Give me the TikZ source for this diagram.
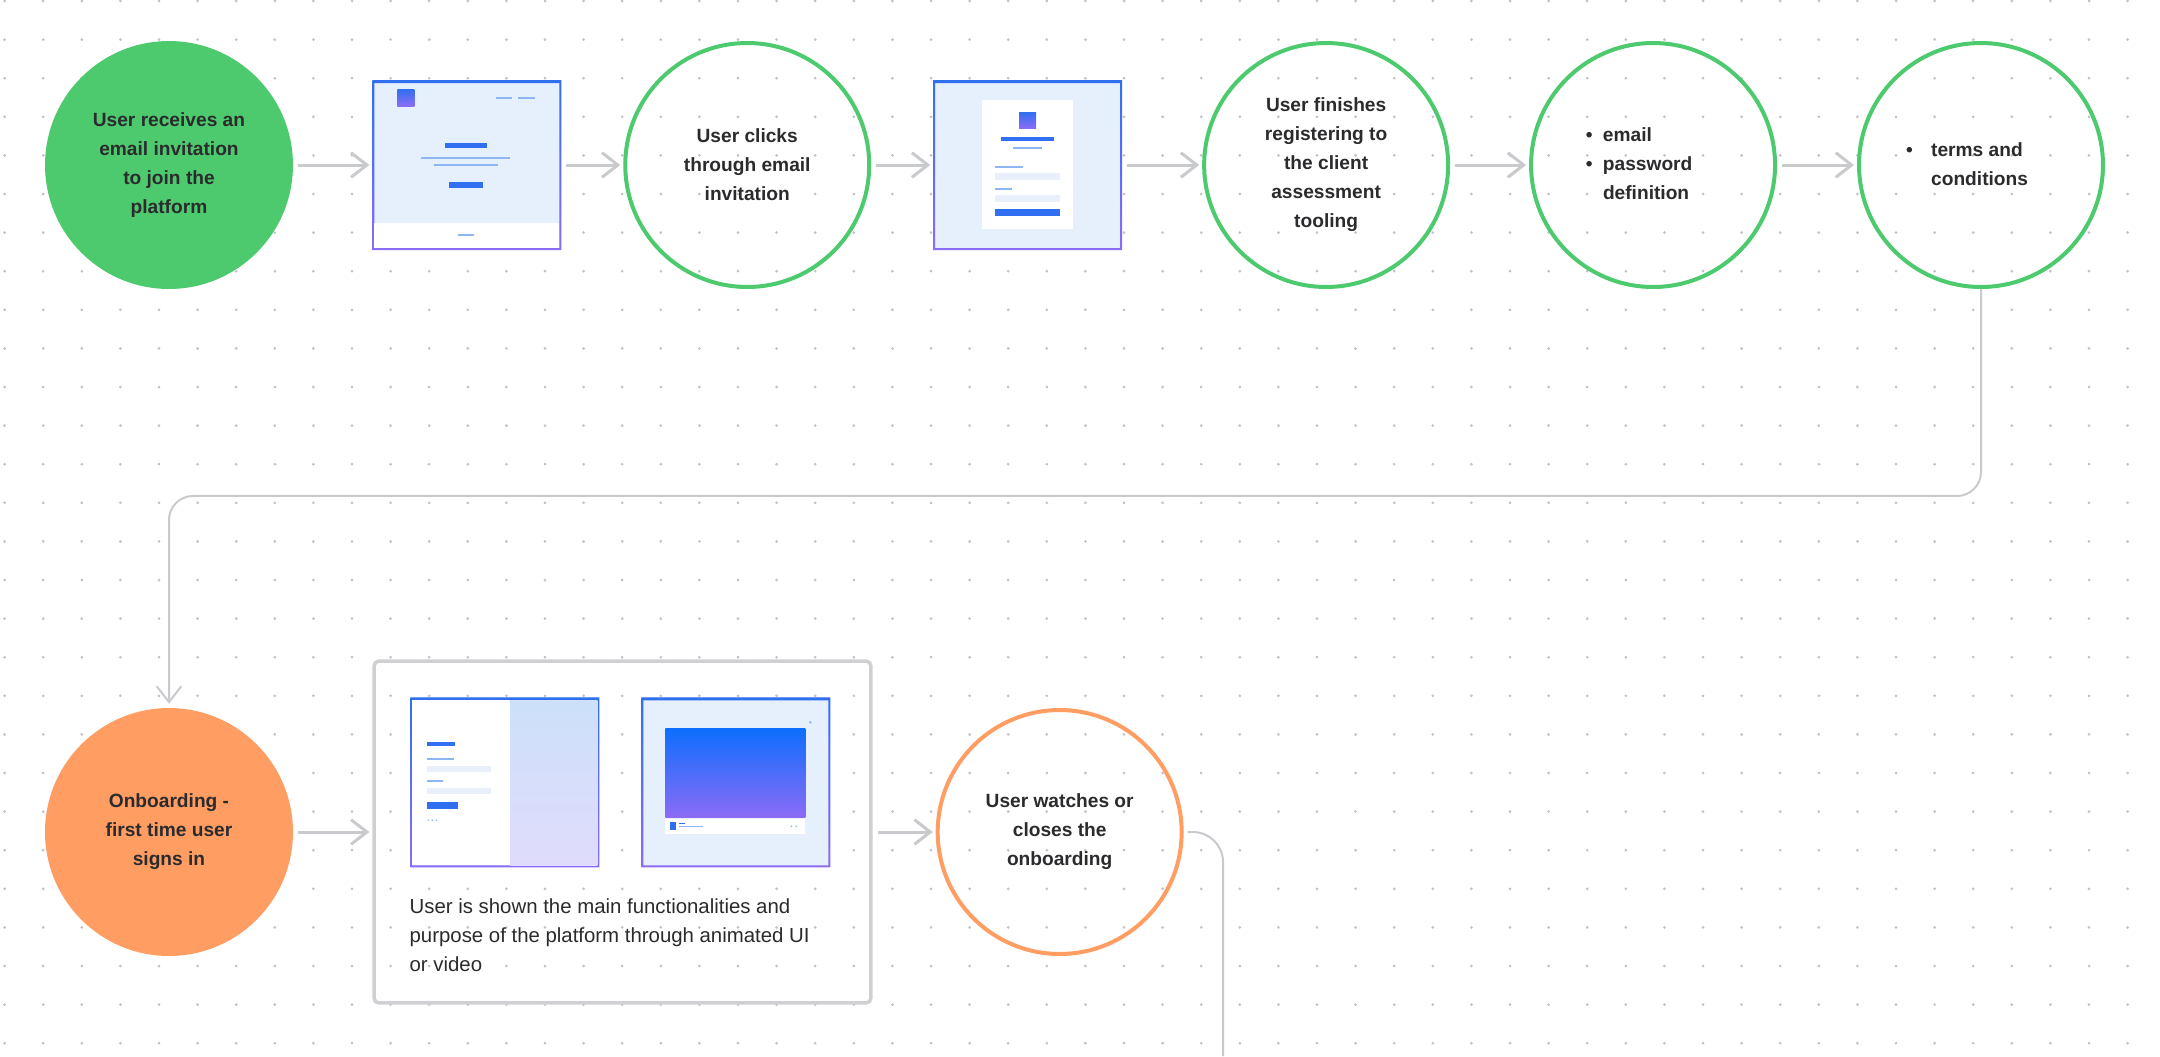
\documentclass[tikz,border=0pt]{standalone}
\usepackage{fontspec}
\setmainfont{Liberation Sans}
\usepackage{tikz}
\usetikzlibrary{arrows.meta,positioning,calc}
\definecolor{ink}{HTML}{2B2B2E}
\definecolor{leaf}{HTML}{4DCA6E}
\definecolor{peach}{HTML}{FF9D63}
\definecolor{wire}{HTML}{C9CACE}
\definecolor{dotgrey}{HTML}{C2C2C6}
\definecolor{panelgrey}{HTML}{D0D0D4}
\definecolor{uiblue}{HTML}{2F6FF0}
\definecolor{uiviolet}{HTML}{8B6CF6}
\definecolor{uivid}{HTML}{0D6EFD}
\definecolor{uipale}{HTML}{E6F0FD}
\definecolor{uiline}{HTML}{8FB5F2}
\definecolor{uifield}{HTML}{E9F0FA}
\definecolor{uisky}{HTML}{CCE0FA}
\definecolor{uililac}{HTML}{E0DCFB}

\begin{document}
\begin{tikzpicture}[x=0.02cm,y=-0.02cm,>={Straight Barb[length=9pt,width=14pt]}]
  \tikzstyle{bubble}=[circle,inner sep=0,align=center,text=ink,font=\fontsize{10.9}{16.5}\selectfont\bfseries]
  \tikzstyle{greenfull}=[bubble,minimum size=4.96cm,fill=leaf]
  \tikzstyle{greenring}=[bubble,minimum size=4.88cm,draw=leaf,line width=0.08cm]
  \tikzstyle{orangefull}=[bubble,minimum size=4.96cm,fill=peach]
  \tikzstyle{orangering}=[bubble,minimum size=4.88cm,draw=peach,line width=0.08cm]
  \tikzstyle{screen}=[rectangle,minimum width=3.78cm,minimum height=3.4cm,inner sep=0,outer sep=0,fill=uipale]
  \tikzstyle{panel}=[rectangle,draw=panelgrey,line width=0.07cm,rounded corners=0.1cm,minimum width=9.94cm,minimum height=6.84cm,inner sep=0]
  \tikzstyle{flowarrow}=[->,draw=wire,line width=0.06cm,shorten <=0.1cm,shorten >=0.06cm]
  \tikzstyle{routeline}=[draw=wire,line width=0.04cm,rounded corners=0.48cm]
  \tikzstyle{uistroke}=[draw=uiline,line width=0.04cm]

  % canvas with dot grid
  \fill[white] (0,0) rectangle (2160,1056);
  \useasboundingbox (0,0) rectangle (2160,1056);
  \foreach \i in {0,...,55}
    \foreach \j in {0,...,27}
      \fill[dotgrey] ({4.6+38.6*\i},{1+38.6*\j}) circle (0.85pt);

  % first row: invitation and registration
  \node[greenfull] (invite) at (169,165) {User receives an\\email invitation\\to join the\\platform};
  \node[screen,right=1.58cm of invite] (mail) {};
  \node[greenring,right=1.24cm of mail] (click) {User clicks\\through email\\invitation};
  \node[screen,right=1.24cm of click] (signup) {};
  \node[greenring,right=1.6cm of signup] (finish) {User finishes\\registering to\\the client\\assessment\\tooling};
  \node[greenring,right=1.58cm of finish] (creds) {\begin{tabular}{@{}l@{\hspace{6pt}}l@{}}\textbullet & email\\ \textbullet & password\\ & definition\end{tabular}\kern0.56cm};
  \node[greenring,right=1.6cm of creds] (terms) {\begin{tabular}{@{}l@{\hspace{10.5pt}}l@{}}\textbullet & terms and\\ & conditions\end{tabular}\kern0.56cm};

  % email mock-up
  \begin{scope}[shift={(mail.north west)}]
    \shade[top color=uiblue,bottom color=uiviolet,even odd rule] (0,0) rectangle (189,170) (2,3) rectangle (187,168);
    \fill[white] (2,143) rectangle (187,168);
    \shade[top color=uiblue,bottom color=uiviolet] (25,9) rectangle (42,26);
    \draw[uistroke] (124,18) -- (140,18) (146,18) -- (163,18);
    \fill[uiblue] (73,63) rectangle (115,68);
    \draw[uistroke] (49,78) -- (138,78) (62,85) -- (126,85);
    \fill[uiblue] (77,102) rectangle (111,108);
    \draw[uistroke] (86,155) -- (102,155);
  \end{scope}

  % sign-up mock-up
  \begin{scope}[shift={(signup.north west)}]
    \shade[top color=uiblue,bottom color=uiviolet,even odd rule] (0,0) rectangle (189,170) (2,3) rectangle (187,168);
    \fill[white] (49,20) rectangle (140,149);
    \shade[top color=uiblue,bottom color=uiviolet] (86,32) rectangle (103,48);
    \fill[uiblue] (68,57) rectangle (121,61);
    \draw[uistroke] (80,68) -- (109,68) (62,87) -- (90,87) (62,109) -- (79,109);
    \fill[uifield] (62,93) rectangle (127,100);
    \fill[uifield] (62,115) rectangle (127,122);
    \fill[uiblue] (62,129) rectangle (127,136);
  \end{scope}

  % second row: onboarding
  \node[orangefull] (onb) at (169,832) {Onboarding -\\first time user\\signs in};
  \node[panel,right=1.58cm of onb] (tour) {};
  \node[orangering,right=1.26cm of tour] (watch) {User watches or\\closes the\\onboarding};

  \begin{scope}[shift={(tour.north west)}]
    \node[screen,anchor=north west] (slides) at (38,38) {};
    \node[screen,anchor=north west] (video) at (269,38) {};
    \node[anchor=north west,align=left,inner sep=0,text=ink,font=\fontsize{11.6}{16.5}\selectfont] (caption) at (37,239) {User is shown the main functionalities and\\purpose of the platform through animated UI\\or video};
  \end{scope}

  % login slide mock-up
  \begin{scope}[shift={(slides.north west)}]
    \shade[top color=uiblue,bottom color=uiviolet,even odd rule] (0,0) rectangle (189,170) (2,3) rectangle (187,168);
    \fill[white] (2,3) rectangle (100,168);
    \shade[top color=uisky,bottom color=uililac] (100,3) rectangle (187,168);
    \fill[uiblue] (17,45) rectangle (45,49);
    \draw[uistroke] (17,62) -- (44,62) (17,84) -- (33,84);
    \fill[uifield] (17,69) rectangle (81,75);
    \fill[uifield] (17,91) rectangle (81,97);
    \fill[uiblue] (17,105) rectangle (48,112);
    \fill[uiline] (18,123) circle (0.5pt) (22,123) circle (0.5pt) (26,123) circle (0.5pt);
  \end{scope}

  % video mock-up
  \begin{scope}[shift={(video.north west)}]
    \shade[top color=uiblue,bottom color=uiviolet,even odd rule] (0,0) rectangle (189,170) (2,3) rectangle (187,168);
    \shade[top color=uivid,bottom color=uiviolet] (24,31) rectangle (164,120);
    \fill[white] (24,122) rectangle (164,137);
    \fill[uiblue] (29,125) rectangle (35,133);
    \draw[uiblue,line width=0.02cm] (38,126) -- (44,126);
    \draw[uiline,line width=0.02cm] (38,129) -- (62,129);
    \fill[uiline] (150,129) circle (0.5pt) (155,129) circle (0.5pt) (169,25) circle (0.8pt);
  \end{scope}

  % connectors
  \draw[flowarrow] (invite) -- (mail);
  \draw[flowarrow] (mail) -- (click);
  \draw[flowarrow] (click) -- (signup);
  \draw[flowarrow] (signup) -- (finish);
  \draw[flowarrow] (finish) -- (creds);
  \draw[flowarrow] (creds) -- (terms);
  \draw[routeline,->,shorten >=0.08cm] (terms.south) -- ++(0,207) -| (onb.north);
  \draw[flowarrow] (onb) -- (tour);
  \draw[flowarrow] (tour) -- (watch);
  \coordinate (exit) at (1223,1056);
  \draw[routeline,rounded corners=0.6cm,shorten <=0.08cm] (watch.east) -| (exit);
\end{tikzpicture}
\end{document}
